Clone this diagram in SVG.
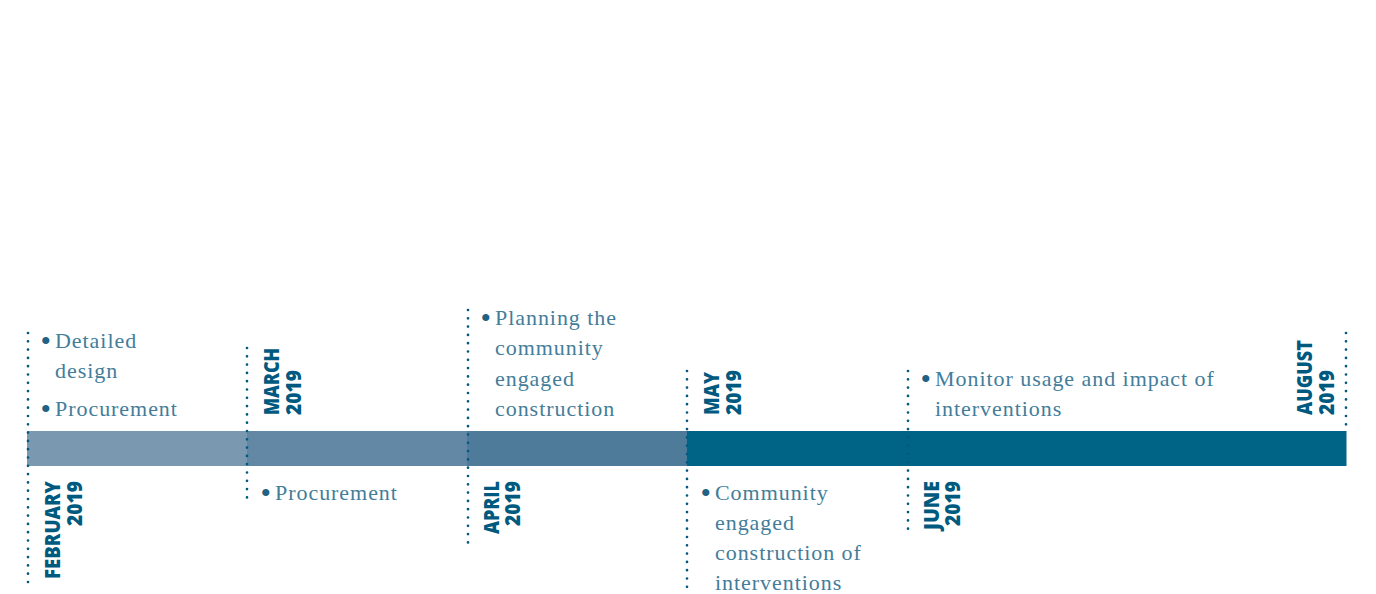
<svg xmlns="http://www.w3.org/2000/svg" width="1376" height="594" viewBox="0 0 1376 594">
<style>
.txt{font-family:"Liberation Serif","Times New Roman",serif;font-size:22px;fill:#437d9a;letter-spacing:0.95px}
.bul{font-family:"Liberation Serif","Times New Roman",serif;font-size:30px;fill:#1f6285}
.lbl{font-family:"Open Sans","Liberation Sans",sans-serif;font-weight:800;font-size:20.5px;fill:#005a80}
.tick{stroke:#005a80;stroke-width:2.7;stroke-linecap:round;stroke-dasharray:0 8.3;fill:none}
</style>
<rect width="1376" height="594" fill="#ffffff"/>
<g id="bar">
<rect x="27" y="431" width="221" height="35" fill="#7a98b0"/>
<rect x="247" y="431" width="221" height="35" fill="#6388a5"/>
<rect x="467" y="431" width="221" height="35" fill="#4f7b9b"/>
<rect x="687" y="431" width="659.5" height="35" fill="#006487"/>
</g>
<g id="connectors">
<line class="tick" x1="28" y1="333" x2="28" y2="583"/>
<line class="tick" x1="247" y1="348" x2="247" y2="502"/>
<line class="tick" x1="468" y1="310" x2="468" y2="545"/>
<line class="tick" x1="687" y1="371" x2="687" y2="592"/>
<line class="tick" x1="908" y1="371" x2="908" y2="529"/>
<line class="tick" x1="1346" y1="333" x2="1346" y2="430"/>
</g>
<g id="february">
<text class="lbl" text-anchor="end" transform="translate(60,481) rotate(-90)"><tspan x="0" y="0" textLength="98" lengthAdjust="spacingAndGlyphs">FEBRUARY</tspan><tspan x="0" y="21.5" textLength="45" lengthAdjust="spacingAndGlyphs">2019</tspan></text>
<text class="bul" x="40.5" y="351">•</text>
<text class="txt"><tspan x="55" y="348">Detailed</tspan><tspan x="55" y="378">design</tspan></text>
<text class="bul" x="40.5" y="419">•</text>
<text class="txt" x="55" y="416">Procurement</text>
</g>
<g id="march">
<text class="lbl" transform="translate(279,415) rotate(-90)"><tspan x="0" y="0" textLength="67" lengthAdjust="spacingAndGlyphs">MARCH</tspan><tspan x="0" y="21.5" textLength="45" lengthAdjust="spacingAndGlyphs">2019</tspan></text>
<text class="bul" x="260.5" y="503">•</text>
<text class="txt" x="275" y="500">Procurement</text>
</g>
<g id="april">
<text class="lbl" text-anchor="end" transform="translate(498.5,481) rotate(-90)"><tspan x="0" y="0" textLength="53" lengthAdjust="spacingAndGlyphs">APRIL</tspan><tspan x="0" y="21.5" textLength="45" lengthAdjust="spacingAndGlyphs">2019</tspan></text>
<text class="bul" x="480.5" y="328">•</text>
<text class="txt"><tspan x="495" y="325">Planning the</tspan><tspan x="495" y="355">community</tspan><tspan x="495" y="386">engaged</tspan><tspan x="495" y="416">construction</tspan></text>
</g>
<g id="may">
<text class="lbl" transform="translate(719,415) rotate(-90)"><tspan x="0" y="0" textLength="43" lengthAdjust="spacingAndGlyphs">MAY</tspan><tspan x="0" y="21.5" textLength="45" lengthAdjust="spacingAndGlyphs">2019</tspan></text>
<text class="bul" x="700.5" y="503">•</text>
<text class="txt"><tspan x="715" y="500">Community</tspan><tspan x="715" y="530">engaged</tspan><tspan x="715" y="560">construction of</tspan><tspan x="715" y="590">interventions</tspan></text>
</g>
<g id="june">
<text class="lbl" text-anchor="end" transform="translate(938.5,481) rotate(-90)"><tspan x="0" y="0" textLength="49" lengthAdjust="spacingAndGlyphs">JUNE</tspan><tspan x="0" y="21.5" textLength="45" lengthAdjust="spacingAndGlyphs">2019</tspan></text>
<text class="bul" x="920.5" y="389">•</text>
<text class="txt"><tspan x="935" y="386">Monitor usage and impact of</tspan><tspan x="935" y="416">interventions</tspan></text>
</g>
<g id="august">
<text class="lbl" transform="translate(1312,415) rotate(-90)"><tspan x="0" y="0" textLength="75" lengthAdjust="spacingAndGlyphs">AUGUST</tspan><tspan x="0" y="21.5" textLength="45" lengthAdjust="spacingAndGlyphs">2019</tspan></text>
</g>
</svg>
